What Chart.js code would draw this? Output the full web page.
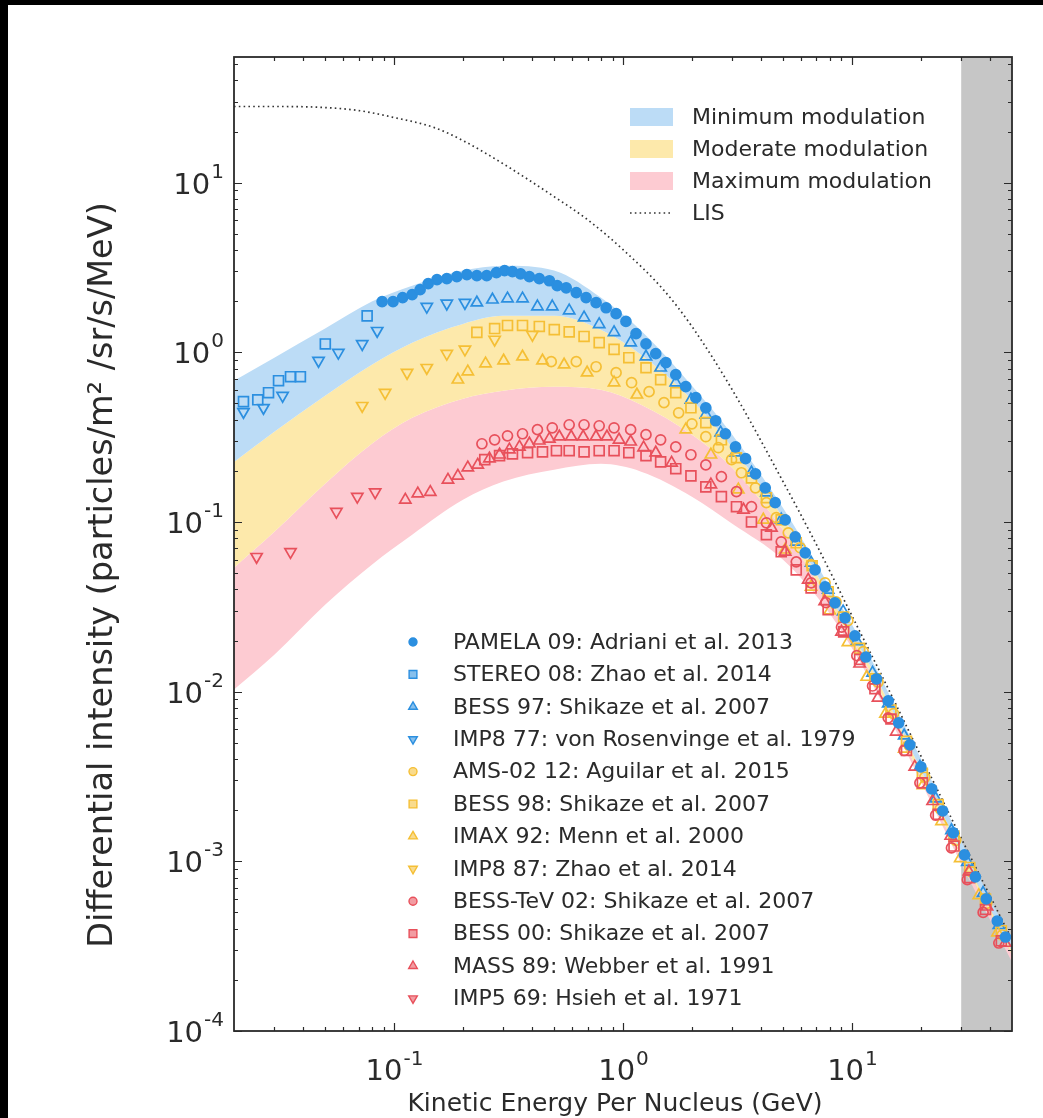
<!DOCTYPE html>
<html>
<head>
<meta charset="utf-8">
<script src="https://cdn.jsdelivr.net/npm/chart.js@4.4.1/dist/chart.umd.min.js"></script>
<style>
  html, body { margin: 0; padding: 0; background: #fff; }
</style>
</head>
<body>
<canvas id="chart" width="1043" height="1118"></canvas>
<script>
// ---- data (kinetic energy in GeV, intensity in particles/m^2/sr/s/MeV) ----
const pamelaE = [0.0887, 0.099, 0.109, 0.120, 0.130, 0.141, 0.154, 0.170, 0.188, 0.208, 0.230, 0.254, 0.280, 0.304, 0.329, 0.357, 0.390, 0.431, 0.477, 0.516, 0.565, 0.625, 0.690, 0.763, 0.844, 0.933, 1.03, 1.14, 1.26, 1.39, 1.54, 1.70, 1.88, 2.08, 2.30, 2.54, 2.80, 3.10, 3.43, 3.79, 4.18, 4.62, 5.11, 5.65, 6.25, 6.90, 7.63, 8.43, 9.33, 10.3, 11.5, 12.8, 14.4, 16.0, 17.9, 20.0, 22.3, 24.9, 27.7, 31.0, 34.6, 38.6, 43.1, 46.8];
const pamelaJ = [1.99, 1.99, 2.10, 2.19, 2.34, 2.54, 2.68, 2.72, 2.79, 2.87, 2.83, 2.83, 2.95, 3.03, 2.99, 2.90, 2.79, 2.72, 2.64, 2.47, 2.40, 2.25, 2.10, 1.96, 1.83, 1.69, 1.52, 1.29, 1.12, 0.982, 0.869, 0.738, 0.627, 0.540, 0.471, 0.395, 0.331, 0.277, 0.236, 0.192, 0.159, 0.130, 0.103, 0.0818, 0.0658, 0.0522, 0.0415, 0.0334, 0.0272, 0.0213, 0.0160, 0.0119, 0.00883, 0.00655, 0.00486, 0.00360, 0.00267, 0.00198, 0.00147, 0.00109, 0.000809, 0.000600, 0.000445, 0.000358];

const stereoE = [0.0220, 0.0254, 0.0283, 0.0313, 0.0353, 0.0390, 0.0501, 0.0763];
const stereoJ = [0.512, 0.525, 0.578, 0.680, 0.718, 0.718, 1.12, 1.64];

const bess97E = [0.230, 0.269, 0.313, 0.364, 0.423, 0.491, 0.582, 0.676, 0.787, 0.914, 1.08, 1.26, 1.46, 1.70, 1.98, 2.30, 2.67, 3.10, 3.64, 4.23, 4.91, 5.71, 6.63, 7.87, 9.15, 10.5, 12.3, 14.4, 16.9, 19.8, 23.2, 27.2, 31.9, 37.4, 43.8];
const bess97J = [1.96, 2.04, 2.07, 2.07, 1.86, 1.86, 1.76, 1.60, 1.46, 1.31, 1.14, 0.942, 0.811, 0.662, 0.525, 0.429, 0.336, 0.256, 0.195, 0.149, 0.103, 0.0764, 0.0574, 0.0398, 0.0296, 0.0198, 0.0129, 0.0085, 0.0055, 0.0036, 0.00234, 0.00152, 0.00099, 0.00065, 0.00042];

const imp77E = [0.0220, 0.0269, 0.0326, 0.0468, 0.0571, 0.0726, 0.0844, 0.139, 0.170, 0.204];
const imp77J = [0.446, 0.471, 0.555, 0.892, 0.995, 1.12, 1.34, 1.86, 1.94, 1.96];

const ams02E = [0.486, 0.625, 0.763, 0.933, 1.09, 1.30, 1.51, 1.75, 2.00, 2.30, 2.61, 2.98, 3.29, 3.79, 4.23, 4.67, 5.27, 5.94, 6.63, 7.63, 8.52, 9.6, 11.2, 13.0, 15.2, 17.8, 20.8, 24.3, 28.4, 33.2, 38.8, 45.3];
const ams02J = [0.881, 0.881, 0.822, 0.758, 0.662, 0.586, 0.505, 0.440, 0.379, 0.318, 0.274, 0.233, 0.195, 0.159, 0.130, 0.106, 0.0863, 0.0705, 0.0560, 0.0438, 0.0338, 0.0262, 0.0172, 0.0114, 0.00743, 0.00482, 0.00313, 0.00204, 0.00133, 0.000866, 0.000565, 0.000368];

const bess98E = [0.230, 0.275, 0.313, 0.364, 0.431, 0.501, 0.582, 0.676, 0.787, 0.914, 1.06, 1.26, 1.46, 1.70, 1.98, 2.30, 2.69, 3.13, 3.64, 4.23, 4.91, 5.71, 6.70, 7.87, 9.2, 10.8, 12.6, 14.8, 17.3, 20.3, 23.8, 27.9, 32.7, 38.3, 44.9];
const bess98J = [1.31, 1.38, 1.44, 1.44, 1.42, 1.36, 1.32, 1.24, 1.14, 1.04, 0.929, 0.811, 0.689, 0.578, 0.471, 0.385, 0.305, 0.239, 0.182, 0.139, 0.103, 0.0754, 0.0552, 0.0388, 0.0275, 0.0180, 0.0119, 0.0078, 0.0051, 0.0033, 0.00216, 0.00141, 0.00092, 0.0006, 0.00039];

const imaxE = [0.190, 0.210, 0.251, 0.301, 0.364, 0.445, 0.553, 0.697, 0.914, 1.15, 1.88, 2.42, 3.19, 4.10, 5.11, 6.63, 8.0, 9.6, 11.6, 14.0, 16.9, 20.4, 24.6, 29.7, 35.8, 43.2];
const imaxJ = [0.689, 0.769, 0.857, 0.892, 0.942, 0.892, 0.845, 0.758, 0.662, 0.562, 0.350, 0.249, 0.155, 0.103, 0.0686, 0.0415, 0.030, 0.0195, 0.0122, 0.0074, 0.0046, 0.0028, 0.00172, 0.00104, 0.00063, 0.00038];

const imp87E = [0.0726, 0.0914, 0.114, 0.139, 0.170, 0.204, 0.275, 0.402];
const imp87J = [0.484, 0.578, 0.758, 0.811, 0.982, 1.04, 1.19, 1.27];

const bessTevE = [0.242, 0.275, 0.313, 0.364, 0.423, 0.491, 0.582, 0.676, 0.787, 0.914, 1.08, 1.26, 1.46, 1.70, 1.98, 2.30, 2.69, 3.13, 3.64, 4.23, 4.91, 5.71, 6.63, 7.7, 9.0, 10.5, 12.3, 14.4, 16.9, 19.8, 23.2, 27.2, 31.9, 37.4, 43.8];
const bessTevJ = [0.289, 0.305, 0.322, 0.331, 0.350, 0.359, 0.374, 0.374, 0.369, 0.359, 0.350, 0.327, 0.305, 0.277, 0.249, 0.217, 0.185, 0.151, 0.123, 0.0989, 0.0764, 0.0582, 0.0438, 0.0335, 0.0240, 0.0163, 0.0108, 0.0070, 0.0045, 0.0029, 0.00187, 0.0012, 0.00078, 0.0005, 0.00033];

const bess00E = [0.249, 0.289, 0.329, 0.383, 0.445, 0.512, 0.582, 0.676, 0.787, 0.914, 1.06, 1.26, 1.46, 1.70, 1.98, 2.30, 2.69, 3.13, 3.64, 4.23, 4.91, 5.71, 6.63, 7.87, 9.2, 10.8, 12.6, 14.8, 17.3, 20.3, 23.8, 27.9, 32.7, 38.3, 44.9];
const bess00J = [0.233, 0.246, 0.252, 0.256, 0.259, 0.263, 0.263, 0.259, 0.263, 0.263, 0.256, 0.246, 0.226, 0.206, 0.187, 0.161, 0.141, 0.123, 0.100, 0.0841, 0.0667, 0.0522, 0.0409, 0.0304, 0.0225, 0.0155, 0.0104, 0.0069, 0.0045, 0.0029, 0.00189, 0.00123, 0.00080, 0.00052, 0.00034];

const mass89E = [0.112, 0.127, 0.144, 0.172, 0.190, 0.210, 0.232, 0.261, 0.289, 0.319, 0.353, 0.390, 0.431, 0.477, 0.527, 0.594, 0.670, 0.762, 0.851, 0.961, 1.08, 1.23, 1.39, 1.63, 2.42, 3.36, 4.45, 5.11, 6.44, 7.6, 9.0, 10.8, 13.0, 15.6, 18.8, 22.5, 27.0, 32.4, 38.9, 46.7];
const mass89J = [0.135, 0.147, 0.150, 0.177, 0.187, 0.209, 0.217, 0.236, 0.249, 0.267, 0.277, 0.289, 0.301, 0.309, 0.318, 0.318, 0.318, 0.318, 0.318, 0.305, 0.297, 0.274, 0.256, 0.223, 0.166, 0.118, 0.0924, 0.0667, 0.0456, 0.034, 0.0225, 0.0146, 0.0092, 0.0058, 0.0036, 0.00226, 0.00141, 0.00087, 0.00054, 0.00033];

const imp5E = [0.0251, 0.0353, 0.0560, 0.0691, 0.0827];
const imp5J = [0.0624, 0.0667, 0.115, 0.141, 0.150];

// modulation bands (edges) on a common energy grid
const bandE    = [0.02, 0.03, 0.05, 0.08, 0.12, 0.2, 0.3, 0.5, 0.8, 1.2, 2, 3, 5, 8, 12, 20, 30, 50];
const minUpper = [0.680, 0.929, 1.38, 1.99, 2.47, 3.03, 3.24, 3.03, 2.10, 1.34, 0.636, 0.327, 0.121, 0.0415, 0.0160, 0.00402, 0.00132, 0.000335];
const minLower = [0.226, 0.340, 0.555, 0.845, 1.14, 1.47, 1.64, 1.64, 1.36, 0.968, 0.525, 0.274, 0.106, 0.0362, 0.0142, 0.00346, 0.00114, 0.000296];
const modLower = [0.0537, 0.0875, 0.168, 0.289, 0.411, 0.533, 0.594, 0.627, 0.601, 0.491, 0.327, 0.209, 0.0899, 0.0334, 0.0131, 0.00315, 0.00106, 0.000281];
const maxLower = [0.0103, 0.0165, 0.0325, 0.0560, 0.0841, 0.135, 0.173, 0.203, 0.220, 0.198, 0.141, 0.0976, 0.0598, 0.0288, 0.0117, 0.00294, 0.000966, 0.000255];

// local interstellar spectrum
const lisE = [0.02, 0.03, 0.05, 0.07, 0.1, 0.15, 0.2, 0.3, 0.5, 0.7, 1, 1.5, 2, 3, 5, 7, 10, 15, 20, 30, 50];
const lisJ = [28.1, 28.1, 27.7, 26.6, 24.2, 21.1, 17.7, 12.9, 8.27, 6.05, 4.03, 2.34, 1.42, 0.601, 0.173, 0.0734, 0.0280, 0.00931, 0.00418, 0.00137, 0.000344];

const xRange = [0.02, 50];
const yRange = [1e-4, 55];
const xMajor = [0.1, 1, 10];
const yMajor = [1e-4, 1e-3, 1e-2, 1e-1, 1, 10];
const shadeRange = [30, 50];

const bandLabels = ['Minimum modulation', 'Moderate modulation', 'Maximum modulation'];

// ---- styling ----
const BLUE = '#2b8fe0', YELLOW = '#f5bf35', RED = '#e8505b';
const BAND_BLUE = '#bcdcf6', BAND_YELLOW = '#fde9ab', BAND_PINK = '#fdcbd2';
const INK = '#2a2a2a';
const FONT = "'DejaVu Sans', sans-serif";

const pts = (E, J) => E.map((e, i) => ({ x: e, y: J[i] }));

const series = [
  { label: 'PAMELA 09: Adriani et al. 2013', E: pamelaE, J: pamelaJ, color: BLUE, style: 'circle', filled: true },
  { label: 'STEREO 08: Zhao et al. 2014', E: stereoE, J: stereoJ, color: BLUE, style: 'rect' },
  { label: 'BESS 97: Shikaze et al. 2007', E: bess97E, J: bess97J, color: BLUE, style: 'triangle' },
  { label: 'IMP8 77: von Rosenvinge et al. 1979', E: imp77E, J: imp77J, color: BLUE, style: 'triangleDown' },
  { label: 'AMS-02 12: Aguilar et al. 2015', E: ams02E, J: ams02J, color: YELLOW, style: 'circle' },
  { label: 'BESS 98: Shikaze et al. 2007', E: bess98E, J: bess98J, color: YELLOW, style: 'rect' },
  { label: 'IMAX 92: Menn et al. 2000', E: imaxE, J: imaxJ, color: YELLOW, style: 'triangle' },
  { label: 'IMP8 87: Zhao et al. 2014', E: imp87E, J: imp87J, color: YELLOW, style: 'triangleDown' },
  { label: 'BESS-TeV 02: Shikaze et al. 2007', E: bessTevE, J: bessTevJ, color: RED, style: 'circle' },
  { label: 'BESS 00: Shikaze et al. 2007', E: bess00E, J: bess00J, color: RED, style: 'rect' },
  { label: 'MASS 89: Webber et al. 1991', E: mass89E, J: mass89J, color: RED, style: 'triangle' },
  { label: 'IMP5 69: Hsieh et al. 1971', E: imp5E, J: imp5J, color: RED, style: 'triangleDown' }
];

const bandSet = (data, color, fill) => ({
  data: pts(bandE, data), fill: fill ? '+1' : false, backgroundColor: color,
  borderColor: 'rgba(0,0,0,0)', borderWidth: 0, pointRadius: 0,
  cubicInterpolationMode: 'monotone', order: 40
});

const datasets = [
  bandSet(minUpper, BAND_BLUE, true),
  bandSet(minLower, BAND_YELLOW, true),
  bandSet(modLower, BAND_PINK, true),
  bandSet(maxLower, 'rgba(0,0,0,0)', false),
  {
    data: pts(lisE, lisJ), borderColor: '#333', borderWidth: 1.7, borderDash: [1.6, 3.2],
    pointRadius: 0, fill: false, cubicInterpolationMode: 'monotone', order: 30
  }
];

series.forEach((s, i) => {
  const radius = s.style === 'rect' ? 7 : s.style === 'circle' ? 5 : 6.5;
  datasets.push({
    data: pts(s.E, s.J), showLine: false,
    pointStyle: s.style === 'triangleDown' ? 'triangle' : s.style,
    pointRotation: s.style === 'triangleDown' ? 180 : 0,
    pointRadius: radius,
    pointBorderColor: s.color, pointBorderWidth: 1.7,
    pointBackgroundColor: s.filled ? s.color : 'rgba(255,255,255,0)',
    order: i === 0 ? 1 : 2 + (series.length - i)
  });
});

function marker(ctx, style, x, y, r) {
  ctx.beginPath();
  if (style === 'circle') {
    ctx.arc(x, y, r, 0, Math.PI * 2);
  } else if (style === 'rect') {
    ctx.rect(x - r * 0.707, y - r * 0.707, r * 1.414, r * 1.414);
  } else {
    const s = style === 'triangle' ? 1 : -1;
    ctx.moveTo(x, y - s * r);
    ctx.lineTo(x + r * 0.866, y + s * r * 0.5);
    ctx.lineTo(x - r * 0.866, y + s * r * 0.5);
    ctx.closePath();
  }
}

function minorTicks(range) {
  const out = [];
  for (let d = -5; d <= 2; d++) {
    for (let m = 2; m <= 9; m++) {
      const v = m * Math.pow(10, d);
      if (v > range[0] * 1.0001 && v < range[1] * 0.9999) out.push(v);
    }
  }
  return out;
}

const decorations = {
  id: 'decorations',
  beforeDatasetsDraw(chart) {
    const { ctx, chartArea: a, scales: { x } } = chart;
    const x0 = x.getPixelForValue(shadeRange[0]);
    const x1 = x.getPixelForValue(shadeRange[1]);
    ctx.save();
    ctx.fillStyle = '#c6c6c6';
    ctx.fillRect(x0, a.top, x1 - x0, a.bottom - a.top);
    ctx.restore();
  },
  afterDatasetsDraw(chart) {
    const { ctx, chartArea: a, scales: { x, y } } = chart;
    ctx.save();
    ctx.strokeStyle = INK;
    ctx.lineWidth = 1.2;
    const xt = (v, len) => {
      const p = Math.round(x.getPixelForValue(v)) + 0.5;
      ctx.beginPath();
      ctx.moveTo(p, a.bottom); ctx.lineTo(p, a.bottom - len);
      ctx.moveTo(p, a.top); ctx.lineTo(p, a.top + len);
      ctx.stroke();
    };
    const yt = (v, len) => {
      const p = Math.round(y.getPixelForValue(v)) + 0.5;
      ctx.beginPath();
      ctx.moveTo(a.left, p); ctx.lineTo(a.left + len, p);
      ctx.moveTo(a.right, p); ctx.lineTo(a.right - len, p);
      ctx.stroke();
    };
    xMajor.forEach(v => xt(v, 8));
    minorTicks(xRange).forEach(v => xt(v, 4));
    yMajor.forEach(v => yt(v, 8));
    minorTicks(yRange).forEach(v => yt(v, 4));

    ctx.lineWidth = 1.8;
    ctx.strokeRect(a.left, a.top, a.right - a.left, a.bottom - a.top);
    ctx.restore();
  },
  afterDraw(chart) {
    const { ctx, chartArea: a, scales: { x, y } } = chart;
    ctx.save();
    ctx.fillStyle = INK;

    // tick labels 10^n
    const big = '29px ' + FONT, small = '20px ' + FONT;
    ctx.textBaseline = 'alphabetic';
    xMajor.forEach(v => {
      const ex = String(Math.round(Math.log10(v)));
      ctx.font = big; const w1 = ctx.measureText('10').width;
      ctx.font = small; const w2 = ctx.measureText(ex).width;
      const left = x.getPixelForValue(v) - (w1 + w2) / 2;
      ctx.textAlign = 'left';
      ctx.font = big; ctx.fillText('10', left, a.bottom + 49);
      ctx.font = small; ctx.fillText(ex, left + w1 + 1, a.bottom + 34);
    });
    yMajor.forEach(v => {
      const ex = String(Math.round(Math.log10(v)));
      const p = y.getPixelForValue(v);
      const right = a.left - 10;
      ctx.textAlign = 'right';
      ctx.font = small; const w2 = ctx.measureText(ex).width;
      ctx.fillText(ex, right, p - 5);
      ctx.font = big; ctx.fillText('10', right - w2 - 1, p + 11);
    });

    // axis titles
    ctx.textAlign = 'center';
    ctx.font = '25px ' + FONT;
    ctx.fillText('Kinetic Energy Per Nucleus (GeV)', (a.left + a.right) / 2 - 8, a.bottom + 80);
    ctx.save();
    ctx.translate(112, (a.top + a.bottom) / 2 + 31);
    ctx.rotate(-Math.PI / 2);
    ctx.font = '33.5px ' + FONT;
    ctx.fillText('Differential intensity (particles/m² /sr/s/MeV)', 0, 0);
    ctx.restore();

    // legend: bands + LIS
    ctx.textAlign = 'left';
    ctx.textBaseline = 'middle';
    ctx.font = '22px ' + FONT;
    const bandColors = [BAND_BLUE, BAND_YELLOW, BAND_PINK];
    bandLabels.forEach((lab, i) => {
      const ry = 117 + i * 32;
      ctx.fillStyle = bandColors[i];
      ctx.fillRect(630, ry - 9, 43, 18);
      ctx.fillStyle = INK;
      ctx.fillText(lab, 692, ry + 1);
    });
    const ly = 117 + 3 * 32;
    ctx.strokeStyle = '#333';
    ctx.lineWidth = 1.7;
    ctx.setLineDash([1.6, 3.2]);
    ctx.beginPath(); ctx.moveTo(630, ly); ctx.lineTo(673, ly); ctx.stroke();
    ctx.setLineDash([]);
    ctx.fillText('LIS', 692, ly + 1);

    // legend: data sets
    series.forEach((s, i) => {
      const ry = 642 + i * 32.4;
      const r = s.style === 'rect' ? 5.5 : s.style === 'circle' ? 4 : 5;
      marker(ctx, s.style, 413, ry, r);
      ctx.fillStyle = s.filled ? s.color : s.color + '90';
      ctx.fill();
      ctx.strokeStyle = s.color;
      ctx.lineWidth = 1.4;
      ctx.stroke();
      ctx.fillStyle = INK;
      ctx.fillText(s.label, 453, ry + 1);
    });

    // black scan edges
    ctx.fillStyle = '#000';
    ctx.fillRect(0, 0, 1043, 5);
    ctx.fillRect(0, 0, 8, 1118);
    ctx.restore();
  }
};

new Chart(document.getElementById('chart'), {
  type: 'line',
  data: { datasets },
  options: {
    responsive: false,
    animation: false,
    devicePixelRatio: 1,
    layout: { padding: { left: 234, right: 31, top: 57, bottom: 87 } },
    scales: {
      x: { type: 'logarithmic', min: xRange[0], max: xRange[1], display: false },
      y: { type: 'logarithmic', min: yRange[0], max: yRange[1], display: false }
    },
    plugins: { legend: { display: false }, tooltip: { enabled: false } }
  },
  plugins: [decorations]
});
</script>
</body>
</html>
